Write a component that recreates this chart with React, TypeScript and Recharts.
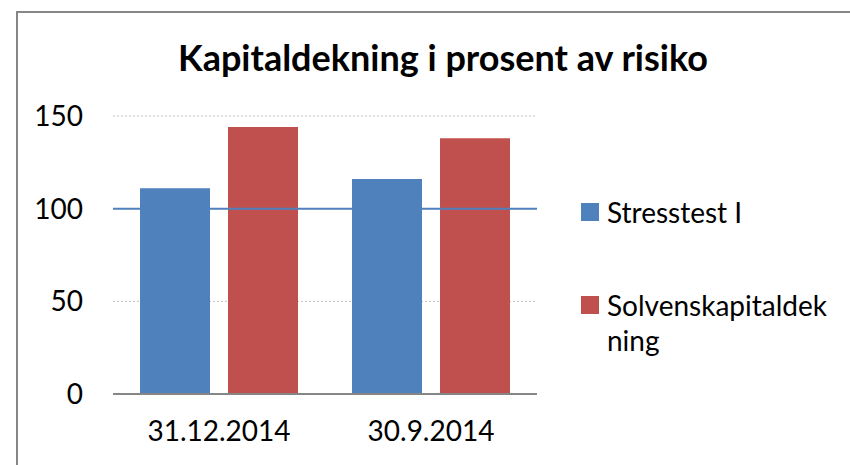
import React from 'react';
import {
  BarChart,
  Bar,
  XAxis,
  YAxis,
  CartesianGrid,
  ReferenceLine,
} from 'recharts';

// Values
const periods = ['31.12.2014', '30.9.2014'];
const stresstest = [111, 116];
const solvens = [144, 138];
const yTicks = [0, 50, 100, 150];

const BLUE = '#4F81BD';
const RED = '#C0504D';
const FONT = 'Lato, "Open Sans", sans-serif';

const data = periods.map((p, i) => ({
  period: p,
  stress: stresstest[i],
  solvens: solvens[i],
}));

const legendItems = [
  { name: 'Stresstest I', color: BLUE, top: 0 },
  { name: 'Solvenskapitaldekning', color: RED, top: 93 },
];

// Legend kept outside the chart so it doesn't eat into the plot area
const SideLegend = () => (
  <div style={{ position: 'absolute', left: 581, top: 195, width: 260, height: 170, fontFamily: FONT }}>
    {legendItems.map((it) => (
      <div key={it.name} style={{ position: 'absolute', left: 0, top: it.top, display: 'flex' }}>
        <div style={{ width: 18, height: 18, background: it.color, marginTop: 8, marginRight: 8 }} />
        <div
          style={{
            width: 232,
            fontSize: 28,
            lineHeight: '35px',
            color: '#000',
            wordBreak: 'break-all',
          }}
        >
          {it.name}
        </div>
      </div>
    ))}
  </div>
);

export default function App() {
  return (
    <div style={{ position: 'absolute', left: 0, top: 0, width: 850, height: 465, overflow: 'hidden', background: '#fff' }}>
      <div
        style={{
          position: 'absolute',
          left: 16,
          top: 11,
          width: 900,
          height: 600,
          borderTop: '2px solid #868686',
          borderLeft: '2px solid #868686',
        }}
      />
      <div
        style={{
          position: 'absolute',
          left: 0,
          top: 35,
          width: 886,
          textAlign: 'center',
          fontFamily: FONT,
          fontWeight: 'bold',
          fontSize: 36,
          color: '#000',
        }}
      >
        Kapitaldekning i prosent av risiko
      </div>
      <div style={{ position: 'absolute', left: 0, top: 0 }}>
        <BarChart
          width={850}
          height={465}
          data={data}
          margin={{ top: 116, right: 313, left: 0, bottom: 41 }}
          barSize={70}
          barGap={18}
        >
          <CartesianGrid vertical={false} stroke="#bfbfbf" strokeDasharray="2 2" />
          <XAxis
            dataKey="period"
            height={30}
            tickLine={false}
            axisLine={{ stroke: '#868686', strokeWidth: 2 }}
            tick={{ fill: '#000', fontSize: 28, fontFamily: FONT }}
            tickMargin={21}
          />
          <YAxis
            width={113}
            domain={[0, 150]}
            ticks={yTicks}
            tickLine={false}
            axisLine={false}
            tick={{ fill: '#000', fontSize: 28, fontFamily: FONT }}
            tickMargin={24}
          />
          <Bar dataKey="stress" name="Stresstest I" fill={BLUE} isAnimationActive={false} />
          <Bar dataKey="solvens" name="Solvenskapitaldekning" fill={RED} isAnimationActive={false} />
          <ReferenceLine y={100} stroke={BLUE} strokeWidth={2} />
        </BarChart>
      </div>
      <SideLegend />
    </div>
  );
}
